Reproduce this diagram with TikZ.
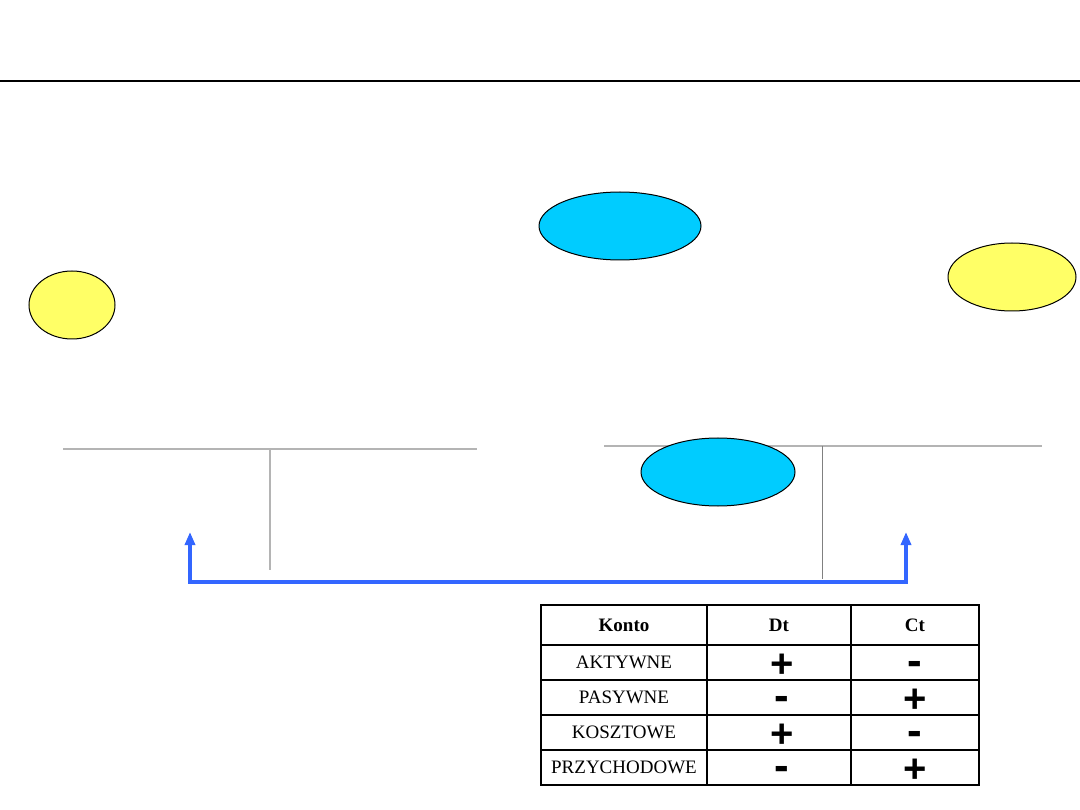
\documentclass[tikz,border=0pt]{standalone}
\usepackage{fontspec}
\setmainfont{Liberation Serif}
\newfontfamily\signfont{Liberation Sans}
\usetikzlibrary{shapes.geometric,arrows.meta}
\definecolor{ycol}{RGB}{255,255,102}
\definecolor{bcol}{RGB}{0,204,255}
\definecolor{acol}{RGB}{51,102,255}
\definecolor{tgray}{RGB}{180,180,180}
\tikzset{
  oval/.style={ellipse,draw=black,line width=1pt,inner sep=0pt},
  tline/.style={draw=tgray,line width=1.3pt},
  grid/.style={draw=black,line width=1.6pt},
  hdr/.style={font=\fontsize{19}{19}\selectfont\bfseries,inner sep=0pt},
  cell/.style={font=\fontsize{19}{19}\selectfont,inner sep=0pt},
  plus/.style={font=\signfont\bfseries\fontsize{40}{40}\selectfont,inner sep=0pt,text height=28pt,text depth=0pt},
  minus/.style={font=\signfont\bfseries\fontsize{44}{44}\selectfont,inner sep=0pt,text height=23pt,text depth=0pt},
  flow/.style={draw=acol,line width=4pt,{Triangle[width=10pt,length=13pt]}-{Triangle[width=10pt,length=13pt]}},
}
\begin{document}
\begin{tikzpicture}[x=1pt,y=-1pt]
\useasboundingbox (0,0) rectangle (1080,810);
% title rule
\coordinate (rl) at (0,81);
\coordinate (rr) at (1080,81);
\draw[line width=2pt] (rl) -- (rr);
% ellipses
\node[oval,fill=ycol,minimum width=86pt,minimum height=68pt] (y1) at (72,305) {};
\node[oval,fill=bcol,minimum width=162pt,minimum height=68pt] (b1) at (620,226) {};
\node[oval,fill=ycol,minimum width=128pt,minimum height=68pt] (y2) at (1012,277) {};
% T-accounts
\coordinate (t1l) at (63,449);
\coordinate (t1r) at (477,449);
\coordinate (t1t) at (270,449);
\coordinate (t1b) at (270,570);
\draw[tline] (t1l) -- (t1r);
\draw[tline] (t1t) -- (t1b);
\coordinate (t2l) at (604,446);
\coordinate (t2r) at (1042,446);
\coordinate (t2t) at (822,446);
\coordinate (t2b) at (822,579);
\draw[tline] (t2l) -- (t2r);
\draw[draw=gray,line width=1pt] (t2t) -- (t2b);
\node[oval,fill=bcol,minimum width=154pt,minimum height=68pt] (b2) at (718,472) {};
% arrow
\coordinate (aL) at (190,532);
\coordinate (aR) at (906,532);
\draw[flow] (aL) -- (190,582) -- (906,582) -- (aR);
% table
\draw[grid] (541,605) rectangle (979,785);
\foreach \yy in {645,680,715,750} \draw[grid] (541,\yy) -- (979,\yy);
\foreach \xx in {707,851} \draw[grid] (\xx,605) -- (\xx,785);
\node[hdr] (hk) at (624,625) {Konto};
\node[hdr] (hd) at (779,625) {Dt};
\node[hdr] (hc) at (915,625) {Ct};
\node[cell] (r1) at (624,662) {AKTYWNE};
\node[cell] (r2) at (624,697) {PASYWNE};
\node[cell] (r3) at (624,732) {KOSZTOWE};
\node[cell] (r4) at (624,767) {PRZYCHODOWE};
\node[plus] (d1) at (782,663) {+};
\node[minus] (c1) at (915,664) {-};
\node[minus] (d2) at (782,699) {-};
\node[plus] (c2) at (915,698) {+};
\node[plus] (d3) at (782,733) {+};
\node[minus] (c3) at (915,734) {-};
\node[minus] (d4) at (782,769) {-};
\node[plus] (c4) at (915,768) {+};
\end{tikzpicture}
\end{document}
